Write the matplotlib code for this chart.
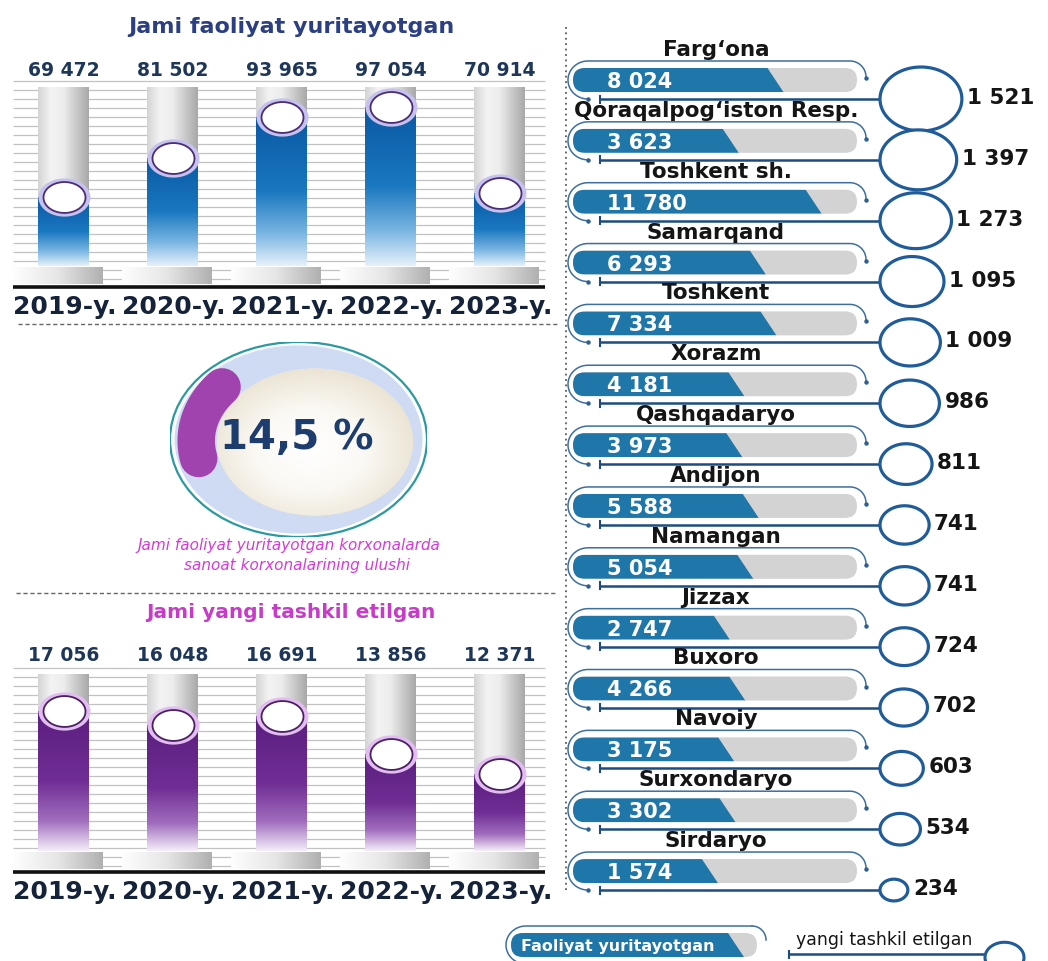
import numpy as np
import matplotlib
matplotlib.use("Agg")
import matplotlib.pyplot as plt
from matplotlib.patches import FancyBboxPatch, Ellipse, Polygon
from matplotlib.path import Path
from matplotlib.colors import LinearSegmentedColormap

# ---------------- data ----------------
years = ["2019-y.", "2020-y.", "2021-y.", "2022-y.", "2023-y."]
active_total = [69472, 81502, 93965, 97054, 70914]
new_total = [17056, 16048, 16691, 13856, 12371]
industry_share = 14.5

regions = ["Farg‘ona", "Qoraqalpog‘iston Resp.", "Toshkent sh.", "Samarqand",
           "Toshkent", "Xorazm", "Qashqadaryo", "Andijon", "Namangan", "Jizzax",
           "Buxoro", "Navoiy", "Surxondaryo", "Sirdaryo"]
region_active = [8024, 3623, 11780, 6293, 7334, 4181, 3973, 5588, 5054, 2747,
                 4266, 3175, 3302, 1574]
region_new = [1521, 1397, 1273, 1095, 1009, 986, 811, 741, 741, 724, 702, 603,
              534, 234]

# axis domains
ACTIVE_RANGE = (48500, 103150)
NEW_RANGE = (6700, 19800)
REGION_RANGE = (-11900, 16050)


def fmt(v):
    return f"{v:,}".replace(",", " ")


W, H = 1048, 962
fig = plt.figure(figsize=(W / 100, H / 100), dpi=100)
fig.patch.set_facecolor("white")


def px_axes(x0, y0, x1, y1, z):
    ax = fig.add_axes([x0 / W, 1 - y1 / H, (x1 - x0) / W, (y1 - y0) / H], zorder=z)
    ax.axis("off")
    return ax


bg = px_axes(0, 0, W, H, 0)
bg.set_xlim(0, W)
bg.set_ylim(H, 0)
fg = px_axes(0, 0, W, H, 5)
fg.set_xlim(0, W)
fg.set_ylim(H, 0)

FONT = "DejaVu Sans"
NAVY = "#1e3658"
INK = "#151515"


def ellipse_marker(aspect):
    t = np.linspace(0, 2 * np.pi, 121)
    return Path(np.column_stack([np.cos(t), np.sin(t) / aspect]), closed=True)


def msize(px):
    return (px * 0.72) ** 2


CAP = ellipse_marker(1.36)
BUBBLE = ellipse_marker(1.28)

CYL = LinearSegmentedColormap.from_list(
    "cyl", ["#d4d4d4", "#f3f3f3", "#ededed", "#cacaca", "#a8a8a8"])
PED = LinearSegmentedColormap.from_list("ped", ["#fefefe", "#e6e6e6", "#b0b0b0"])
BLUES = LinearSegmentedColormap.from_list(
    "bl", [(0, "#e6f1fa"), (0.22, "#79b5e2"), (0.5, "#1a78c0"), (1, "#0a58a3")])
PURPLES = LinearSegmentedColormap.from_list(
    "pu", [(0, "#f4eef8"), (0.22, "#a06cbd"), (0.5, "#702e95"), (1, "#5a1f7f")])

SHADE = np.linspace(0, 1, 256)[None, :]
RAMP = np.linspace(0, 1, 256)[:, None]

CHART_L, CHART_R = 9, 554
STEP = (CHART_R - CHART_L) / len(years)


def col_cx(i):
    return CHART_L + STEP * (i + 0.5)


def column_chart(values, top, bottom, vrange, cmap, halo, rim, title, title_color,
                 title_size, title_y, value_y):
    vmin, vmax = vrange
    # background stripes and pedestals
    bg.hlines(np.arange(top - 6, bottom + 17, 9.0), 13, 545, color="#c2c2c2",
              lw=0.9, zorder=1)
    for i in range(len(values)):
        cx = col_cx(i)
        bg.imshow(SHADE, extent=(cx - 51, cx + 39, bottom + 18, bottom + 1),
                  cmap=PED, aspect="auto", zorder=2, interpolation="bilinear")
    fg.plot([13, 545], [bottom + 21, bottom + 21], color="#111111", lw=2.6,
            solid_capstyle="butt")

    ax = px_axes(CHART_L, top, CHART_R, bottom, 2)
    x = np.arange(len(values))
    w = 0.46
    for xi in x:
        ax.imshow(SHADE, extent=(xi - w / 2, xi + w / 2, vmin, vmax), cmap=CYL,
                  aspect="auto", zorder=1, interpolation="bilinear")
    bars = ax.bar(x, np.array(values) - vmin, bottom=vmin, width=w,
                  color="none", zorder=2)
    for b, v in zip(bars, values):
        im = ax.imshow(RAMP, origin="lower",
                       extent=(b.get_x(), b.get_x() + w, vmin, v), cmap=cmap,
                       aspect="auto", zorder=2, interpolation="bilinear")
        im.set_clip_path(b)
    ax.scatter(x, values, marker=CAP, s=msize(52), color=halo, linewidths=0,
               zorder=3, clip_on=False)
    ax.scatter(x, values, marker=CAP, s=msize(42), facecolor="white",
               edgecolor=rim, linewidths=1.3, zorder=4, clip_on=False)
    ax.set_xlim(-0.5, len(values) - 0.5)
    ax.set_ylim(vmin, vmax)

    fg.text(291, title_y, title, ha="center", va="center", family=FONT,
            fontweight="bold", fontsize=title_size, color=title_color)
    for i, v in enumerate(values):
        fg.text(col_cx(i), value_y, fmt(v), ha="center", va="center", family=FONT,
                fontweight="bold", fontsize=13.5, color=NAVY)
        fg.text(col_cx(i) + 1, bottom + 40, years[i], ha="center", va="center",
                family=FONT, fontweight="bold", fontsize=18, color="#15233a")


column_chart(active_total, 88, 267, ACTIVE_RANGE, BLUES, "#c6c2ef", "#4b2d73",
             "Jami faoliyat yuritayotgan", "#2b3f82", 16, 27, 71)
column_chart(new_total, 675, 852, NEW_RANGE, PURPLES, "#e3bdf2", "#4b2060",
             "Jami yangi tashkil etilgan", "#c83ac8", 14.5, 613, 656)

# separators
bg.plot([566, 566], [28, 893], color="#5a5a5a", lw=1.3, ls=(0, (1, 2)))
bg.plot([18, 559], [325, 325], color="#666666", lw=1.0, ls=(0, (3, 2)))
bg.plot([16, 556], [594, 594], color="#666666", lw=1.0, ls=(0, (3, 2)))

# ---------------- share donut ----------------
axd = px_axes(170, 343, 427, 538, 2)
axd.set_xlim(-1, 1)
axd.set_ylim(-1, 1)
axd.add_patch(Ellipse((0, 0), 2, 2, fc="white", ec="#2a9a9e", lw=1.6, zorder=1))
axd.add_patch(Ellipse((0, 0), 1.93, 1.93, fc="#cfdbf3", ec="none", zorder=2))
inner = Ellipse((0.128, -0.026), 1.526, 1.508, fc="#f1ede4", ec="none", zorder=3)
axd.add_patch(inner)
yy, xx = np.mgrid[-1:1:200j, -1:1:200j]
glow = np.sqrt((xx + 0.05) ** 2 + (yy - 0.1) ** 2)
DISC = LinearSegmentedColormap.from_list("disc", ["#ffffff", "#fbf9f4", "#ebe4d4"])
gim = axd.imshow(glow, extent=(0.128 - 0.763, 0.128 + 0.763, -0.026 - 0.754,
                               -0.026 + 0.754), cmap=DISC, aspect="auto",
                 zorder=4, vmin=0, vmax=1.1)
gim.set_clip_path(inner)
start = np.deg2rad(140)
theta = np.linspace(start, start + industry_share / 100 * 2 * np.pi, 100)
axd.plot(0.064 + 0.86 * np.cos(theta), -0.013 + 0.86 * np.sin(theta),
         color="#a043ae", lw=27, solid_capstyle="round", zorder=5)
axd.set_xlim(-1, 1)
axd.set_ylim(-1, 1)

fg.text(297, 438, f"{industry_share:.1f}".replace(".", ",") + " %", ha="center",
        va="center", family=FONT, fontweight="bold", fontsize=29, color="#1d3d6e")
fg.text(289, 546, "Jami faoliyat yuritayotgan korxonalarda", ha="center",
        va="center", family=FONT, style="italic", fontsize=11, color="#d63ad6")
fg.text(297, 566, "sanoat korxonalarining ulushi", ha="center", va="center",
        family=FONT, style="italic", fontsize=11, color="#d63ad6")

# ---------------- regional panel ----------------
ROW0, ROW_STEP = 81, 60.85
PILL_L, PILL_R = 573, 857
BAR_BLUE = "#1f76a8"
axr = px_axes(PILL_L, 0, PILL_R, H, 2)
axr.set_xlim(*REGION_RANGE)
axr.set_ylim(H, 0)
upx = (REGION_RANGE[1] - REGION_RANGE[0]) / (PILL_R - PILL_L)


def bracket(py, left, right):
    t = np.linspace(np.pi / 2, 3 * np.pi / 2, 40)
    xs = list(left + 15 + 20 * np.cos(t)[::-1])
    ys = list(py - 19 * np.sin(t)[::-1])
    t2 = np.linspace(np.pi / 2, 0, 20)
    xs += list(right - 7 + 16 * np.cos(t2))
    ys += list(py - 3 - 16 * np.sin(t2))
    bg.plot(xs, ys, color="#3d6f9e", lw=1.1, zorder=2)
    bg.plot([xs[-1]], [ys[-1] + 1], "o", ms=2.2, color="#2f5f8f", zorder=2)
    bg.plot([xs[0]], [ys[0]], "o", ms=2.2, color="#2f5f8f", zorder=2)


def bubble_px(n):
    return 18 + 0.042 * np.asarray(n, dtype=float)


d = bubble_px(region_new)
rows_y = ROW0 + ROW_STEP * np.arange(len(regions))
line_y = rows_y + 19
circ_x = 880 + d / 2

for i, (name, v) in enumerate(zip(regions, region_active)):
    py = rows_y[i]
    pill = FancyBboxPatch((PILL_L, py - 12), PILL_R - PILL_L, 24,
                          boxstyle="round,pad=0,rounding_size=12",
                          fc="#d3d3d3", ec="none", zorder=3)
    bg.add_patch(pill)
    poly = Polygon([(REGION_RANGE[0] - 10 * upx, py - 12), (v - 8 * upx, py - 12),
                    (v + 8 * upx, py + 12), (REGION_RANGE[0] - 10 * upx, py + 12)],
                   closed=True, fc=BAR_BLUE, ec="none", zorder=3)
    axr.add_patch(poly)
    poly.set_clip_path(pill)
    bracket(py, 573, 857)
    bg.plot([600, circ_x[i]], [line_y[i]] * 2, color="#1d4c80", lw=1.8, zorder=2)
    bg.plot([600, 600], [line_y[i] - 3.5, line_y[i] + 3.5], color="#1d4c80",
            lw=1.5, zorder=2)
    fg.text(716, py - 31, name, ha="center", va="center", family=FONT,
            fontweight="bold", fontsize=15.5, color=INK)
    fg.text(607, py + 1, fmt(v), ha="left", va="center", family=FONT,
            fontweight="bold", fontsize=15, color="white")

fg.scatter(circ_x, line_y, marker=BUBBLE, s=msize(d), facecolor="white",
           edgecolor="#1f5c99", linewidths=2.3, zorder=4)
for n, cx, dd, ly in zip(region_new, circ_x, d, line_y):
    fg.text(cx + dd / 2 + 5, ly - 2, fmt(n), ha="left", va="center", family=FONT,
            fontweight="bold", fontsize=15.5, color=INK)

# ---------------- legend ----------------
lpy = 946
lpill = FancyBboxPatch((511, lpy - 12), 246, 24,
                       boxstyle="round,pad=0,rounding_size=12",
                       fc="#d3d3d3", ec="none", zorder=3)
bg.add_patch(lpill)
lpoly = Polygon([(505, lpy - 12), (728, lpy - 12), (744, lpy + 12), (505, lpy + 12)],
                closed=True, fc=BAR_BLUE, ec="none", zorder=3)
bg.add_patch(lpoly)
lpoly.set_clip_path(lpill)
t = np.linspace(np.pi / 2, 3 * np.pi / 2, 40)
bg.plot(list(526 + 20 * np.cos(t)[::-1]) + [752],
        list(lpy - 19 * np.sin(t)[::-1]) + [lpy - 19], color="#3d6f9e", lw=1.1,
        zorder=2)
t2 = np.linspace(np.pi / 2, 0, 20)
bg.plot(752 + 14 * np.cos(t2), lpy - 5 - 14 * np.sin(t2), color="#3d6f9e", lw=1.1,
        zorder=2)
fg.text(521, lpy + 1, "Faoliyat yuritayotgan", ha="left", va="center",
        family=FONT, fontweight="bold", fontsize=11.5, color="white")
fg.text(796, 940, "yangi tashkil etilgan", ha="left", va="center", family=FONT,
        fontsize=12.5, color=INK)
bg.plot([789, 1004], [955, 955], color="#1d4c80", lw=1.8, zorder=2)
bg.plot([789, 789], [951.5, 958.5], color="#1d4c80", lw=1.5, zorder=2)
fg.scatter([1004], [958], marker=BUBBLE, s=msize(39), facecolor="white",
           edgecolor="#1f5c99", linewidths=2.2, zorder=4, clip_on=False)

for a in (bg, fg):
    a.set_xlim(0, W)
    a.set_ylim(H, 0)

fig.savefig("out.png", dpi=100)
